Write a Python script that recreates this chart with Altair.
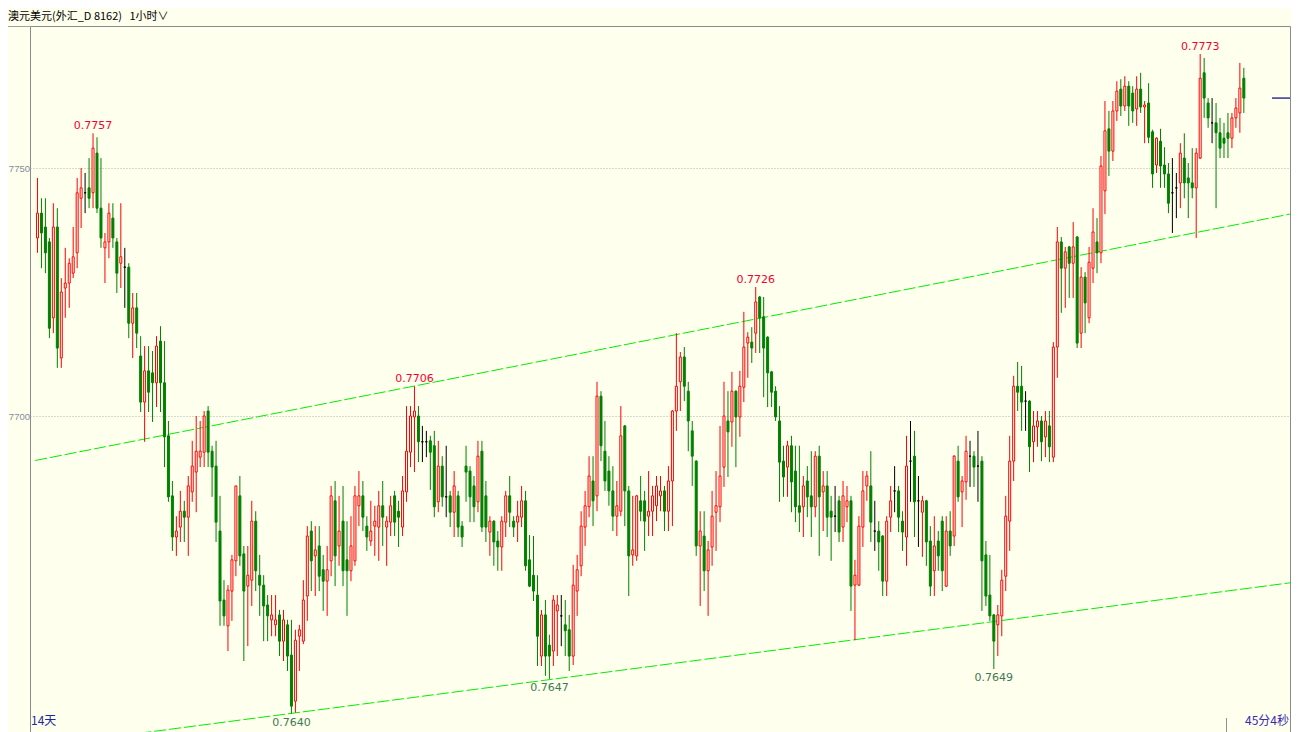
import altair as alt
import pandas as pd
import numpy as np

# ---------------- data (AUD/USD 1h candles) ----------------
open_ = [
    0.77359, 0.77409, 0.77381, 0.77351, 0.77198, 0.77381, 0.77117, 0.77258, 0.77268, 0.77288,
    0.77329, 0.77439, 0.77450, 0.77460, 0.77450, 0.77530, 0.77419, 0.77339, 0.77351, 0.77399,
    0.77351, 0.77308, 0.77300, 0.77300, 0.77187, 0.77218, 0.77121, 0.77028, 0.77091, 0.77087,
    0.77067, 0.77151, 0.77067, 0.76960, 0.76839, 0.76756, 0.76776, 0.76808, 0.76796, 0.76847,
    0.76887, 0.76917, 0.76927, 0.77010, 0.76929, 0.76899, 0.76768, 0.76629, 0.76577, 0.76647,
    0.76708, 0.76839, 0.76722, 0.76657, 0.76669, 0.76788, 0.76679, 0.76659, 0.76619, 0.76589,
    0.76579, 0.76599, 0.76546, 0.76579, 0.76518, 0.76425, 0.76556, 0.76546, 0.76637, 0.76768,
    0.76718, 0.76738, 0.76690, 0.76667, 0.76708, 0.76829, 0.76738, 0.76788, 0.76710, 0.76688,
    0.76708, 0.76819, 0.76839, 0.76778, 0.76748, 0.76778, 0.76776, 0.76819, 0.76776, 0.76786,
    0.76839, 0.76808, 0.76776, 0.76847, 0.76927, 0.76998, 0.77000, 0.76948, 0.76948, 0.76950,
    0.76940, 0.76827, 0.76899, 0.76837, 0.76839, 0.76806, 0.76839, 0.76778, 0.76899, 0.76889,
    0.76859, 0.76827, 0.76929, 0.76839, 0.76766, 0.76788, 0.76748, 0.76736, 0.76786, 0.76839,
    0.76788, 0.76786, 0.76796, 0.76829, 0.76710, 0.76679, 0.76639, 0.76516, 0.76599, 0.76538,
    0.76526, 0.76607, 0.76597, 0.76579, 0.76569, 0.76516, 0.76647, 0.76698, 0.76776, 0.76817,
    0.76869, 0.76839, 0.77040, 0.76929, 0.76889, 0.76849, 0.76798, 0.76808, 0.76980, 0.76849,
    0.76720, 0.76718, 0.76829, 0.76829, 0.76798, 0.76808, 0.76819, 0.76839, 0.76849, 0.76808,
    0.76869, 0.77010, 0.77069, 0.77119, 0.77050, 0.76970, 0.76909, 0.76738, 0.76758, 0.76688,
    0.76736, 0.76806, 0.76817, 0.76897, 0.76990, 0.76988, 0.77050, 0.76998, 0.77058, 0.77147,
    0.77149, 0.77167, 0.77240, 0.77200, 0.77159, 0.77089, 0.77050, 0.76990, 0.76909, 0.76897,
    0.76940, 0.76889, 0.76819, 0.76817, 0.76869, 0.76839, 0.76817, 0.76919, 0.76847, 0.76859,
    0.76808, 0.76798, 0.76829, 0.76776, 0.76817, 0.76829, 0.76659, 0.76659, 0.76776, 0.76859,
    0.76859, 0.76768, 0.76768, 0.76758, 0.76667, 0.76796, 0.76849, 0.76849, 0.76788, 0.76756,
    0.76909, 0.76919, 0.76829, 0.76806, 0.76829, 0.76748, 0.76688, 0.76748, 0.76788, 0.76657,
    0.76768, 0.76758, 0.76909, 0.76847, 0.76867, 0.76919, 0.76919, 0.76899, 0.76909, 0.76720,
    0.76639, 0.76599, 0.76579, 0.76597, 0.76677, 0.76788, 0.76909, 0.77060, 0.77060, 0.77030,
    0.77030, 0.76948, 0.76978, 0.76990, 0.76958, 0.76980, 0.76917, 0.77139, 0.77351, 0.77298,
    0.77341, 0.77308, 0.77361, 0.77167, 0.77280, 0.77198, 0.77298, 0.77351, 0.77329, 0.77454,
    0.77579, 0.77534, 0.77615, 0.77659, 0.77625, 0.77665, 0.77651, 0.77619, 0.77659, 0.77623,
    0.77631, 0.77573, 0.77506, 0.77554, 0.77506, 0.77488, 0.77450, 0.77460, 0.77470, 0.77520,
    0.77480, 0.77470, 0.77460, 0.77520, 0.77692, 0.77631, 0.77591, 0.77591, 0.77571, 0.77560,
    0.77571, 0.77560, 0.77601, 0.77611, 0.77681,
]
high = [
    0.77480, 0.77439, 0.77439, 0.77359, 0.77429, 0.77419, 0.77278, 0.77339, 0.77318, 0.77381,
    0.77480, 0.77500, 0.77490, 0.77520, 0.77570, 0.77562, 0.77520, 0.77369, 0.77429, 0.77429,
    0.77359, 0.77429, 0.77339, 0.77308, 0.77248, 0.77248, 0.77161, 0.77141, 0.77141, 0.77131,
    0.77161, 0.77181, 0.77151, 0.76990, 0.76869, 0.76798, 0.76849, 0.76829, 0.76879, 0.76950,
    0.77000, 0.76990, 0.77010, 0.77020, 0.76940, 0.76950, 0.76839, 0.76669, 0.76659, 0.76720,
    0.76859, 0.76879, 0.76738, 0.76738, 0.76829, 0.76808, 0.76720, 0.76679, 0.76639, 0.76639,
    0.76639, 0.76609, 0.76609, 0.76589, 0.76589, 0.76569, 0.76579, 0.76669, 0.76778, 0.76788,
    0.76778, 0.76778, 0.76720, 0.76738, 0.76859, 0.76869, 0.76839, 0.76859, 0.76788, 0.76798,
    0.76859, 0.76889, 0.76869, 0.76798, 0.76829, 0.76819, 0.76849, 0.76869, 0.76798, 0.76839,
    0.76849, 0.76829, 0.76879, 0.77020, 0.77020, 0.77060, 0.77020, 0.76980, 0.76970, 0.76960,
    0.76970, 0.76950, 0.76919, 0.76940, 0.76849, 0.76889, 0.76849, 0.76788, 0.76940, 0.76899,
    0.76879, 0.76950, 0.76950, 0.76869, 0.76798, 0.76790, 0.76768, 0.76798, 0.76849, 0.76879,
    0.76798, 0.76829, 0.76859, 0.76849, 0.76760, 0.76758, 0.76679, 0.76609, 0.76629, 0.76559,
    0.76639, 0.76639, 0.76639, 0.76629, 0.76599, 0.76700, 0.76720, 0.76808, 0.76849, 0.76919,
    0.76919, 0.77069, 0.77050, 0.76990, 0.76919, 0.76899, 0.76869, 0.77020, 0.76982, 0.76859,
    0.76839, 0.76841, 0.76879, 0.76849, 0.76889, 0.76859, 0.76879, 0.76879, 0.76859, 0.76899,
    0.77012, 0.77167, 0.77129, 0.77139, 0.77069, 0.76990, 0.76911, 0.76808, 0.76808, 0.76748,
    0.76849, 0.76889, 0.76980, 0.77069, 0.77050, 0.77089, 0.77052, 0.77091, 0.77210, 0.77169,
    0.77179, 0.77260, 0.77242, 0.77240, 0.77161, 0.77091, 0.77060, 0.77020, 0.76940, 0.76950,
    0.76960, 0.76940, 0.76940, 0.76879, 0.76899, 0.76929, 0.76929, 0.76940, 0.76889, 0.76889,
    0.76839, 0.76859, 0.76839, 0.76869, 0.76859, 0.76839, 0.76710, 0.76798, 0.76889, 0.76889,
    0.76929, 0.76829, 0.76788, 0.76760, 0.76798, 0.76859, 0.76899, 0.76859, 0.76808, 0.76960,
    0.76990, 0.76970, 0.76879, 0.76839, 0.76831, 0.76778, 0.76798, 0.76768, 0.76798, 0.76798,
    0.76808, 0.76921, 0.76940, 0.76879, 0.76960, 0.76950, 0.76929, 0.76970, 0.76919, 0.76748,
    0.76720, 0.76601, 0.76619, 0.76690, 0.76839, 0.76960, 0.77081, 0.77109, 0.77101, 0.77050,
    0.77032, 0.77010, 0.77010, 0.77000, 0.77010, 0.77010, 0.77149, 0.77381, 0.77361, 0.77341,
    0.77343, 0.77391, 0.77363, 0.77300, 0.77290, 0.77341, 0.77419, 0.77399, 0.77524, 0.77635,
    0.77615, 0.77635, 0.77675, 0.77679, 0.77685, 0.77675, 0.77665, 0.77685, 0.77692, 0.77635,
    0.77671, 0.77577, 0.77562, 0.77579, 0.77542, 0.77510, 0.77520, 0.77490, 0.77550, 0.77570,
    0.77510, 0.77540, 0.77540, 0.77730, 0.77722, 0.77641, 0.77641, 0.77631, 0.77601, 0.77591,
    0.77611, 0.77611, 0.77641, 0.77712, 0.77702,
]
low = [
    0.77329, 0.77298, 0.77288, 0.77157, 0.77167, 0.77097, 0.77097, 0.77198, 0.77218, 0.77278,
    0.77298, 0.77379, 0.77409, 0.77419, 0.77419, 0.77409, 0.77339, 0.77268, 0.77318, 0.77339,
    0.77248, 0.77258, 0.77218, 0.77157, 0.77117, 0.77137, 0.77008, 0.76948, 0.77008, 0.76988,
    0.77018, 0.77008, 0.76897, 0.76827, 0.76728, 0.76718, 0.76746, 0.76746, 0.76718, 0.76827,
    0.76806, 0.76897, 0.76897, 0.76897, 0.76837, 0.76746, 0.76577, 0.76577, 0.76526, 0.76587,
    0.76677, 0.76698, 0.76506, 0.76536, 0.76617, 0.76647, 0.76597, 0.76546, 0.76546, 0.76556,
    0.76556, 0.76516, 0.76506, 0.76486, 0.76400, 0.76402, 0.76486, 0.76540, 0.76587, 0.76647,
    0.76637, 0.76647, 0.76607, 0.76597, 0.76677, 0.76657, 0.76698, 0.76657, 0.76597, 0.76667,
    0.76698, 0.76778, 0.76768, 0.76728, 0.76738, 0.76718, 0.76708, 0.76738, 0.76698, 0.76758,
    0.76758, 0.76736, 0.76758, 0.76827, 0.76897, 0.76887, 0.76907, 0.76907, 0.76917, 0.76851,
    0.76796, 0.76806, 0.76817, 0.76796, 0.76776, 0.76756, 0.76756, 0.76736, 0.76827, 0.76786,
    0.76786, 0.76806, 0.76766, 0.76746, 0.76718, 0.76698, 0.76688, 0.76688, 0.76756, 0.76776,
    0.76756, 0.76746, 0.76776, 0.76688, 0.76655, 0.76627, 0.76496, 0.76496, 0.76476, 0.76470,
    0.76496, 0.76516, 0.76536, 0.76516, 0.76486, 0.76498, 0.76597, 0.76677, 0.76738, 0.76796,
    0.76778, 0.76808, 0.76909, 0.76849, 0.76819, 0.76768, 0.76758, 0.76798, 0.76778, 0.76637,
    0.76698, 0.76708, 0.76788, 0.76728, 0.76758, 0.76758, 0.76788, 0.76808, 0.76768, 0.76768,
    0.76778, 0.76970, 0.77010, 0.77030, 0.76929, 0.76859, 0.76718, 0.76617, 0.76647, 0.76597,
    0.76698, 0.76728, 0.76786, 0.76857, 0.76877, 0.76938, 0.76897, 0.76958, 0.77028, 0.77077,
    0.77107, 0.77127, 0.77127, 0.77038, 0.77018, 0.77018, 0.76990, 0.76827, 0.76837, 0.76837,
    0.76806, 0.76786, 0.76766, 0.76756, 0.76796, 0.76756, 0.76796, 0.76718, 0.76768, 0.76756,
    0.76708, 0.76766, 0.76746, 0.76746, 0.76786, 0.76607, 0.76548, 0.76657, 0.76736, 0.76829,
    0.76746, 0.76728, 0.76688, 0.76637, 0.76637, 0.76766, 0.76806, 0.76766, 0.76728, 0.76698,
    0.76827, 0.76756, 0.76736, 0.76716, 0.76698, 0.76637, 0.76637, 0.76688, 0.76647, 0.76655,
    0.76718, 0.76738, 0.76827, 0.76776, 0.76831, 0.76857, 0.76857, 0.76827, 0.76607, 0.76617,
    0.76587, 0.76490, 0.76516, 0.76556, 0.76647, 0.76728, 0.76869, 0.77010, 0.76970, 0.76970,
    0.76887, 0.76907, 0.76938, 0.76909, 0.76917, 0.76907, 0.76907, 0.77077, 0.77208, 0.77218,
    0.77238, 0.77238, 0.77137, 0.77137, 0.77167, 0.77187, 0.77268, 0.77288, 0.77308, 0.77407,
    0.77484, 0.77514, 0.77595, 0.77605, 0.77615, 0.77585, 0.77591, 0.77585, 0.77611, 0.77550,
    0.77550, 0.77460, 0.77490, 0.77460, 0.77460, 0.77409, 0.77369, 0.77399, 0.77419, 0.77439,
    0.77399, 0.77439, 0.77359, 0.77518, 0.77601, 0.77581, 0.77550, 0.77419, 0.77520, 0.77520,
    0.77520, 0.77540, 0.77581, 0.77571, 0.77611,
]
close = [
    0.77409, 0.77369, 0.77329, 0.77177, 0.77381, 0.77137, 0.77250, 0.77268, 0.77308, 0.77321,
    0.77450, 0.77460, 0.77450, 0.77439, 0.77540, 0.77419, 0.77359, 0.77351, 0.77409, 0.77359,
    0.77288, 0.77321, 0.77300, 0.77187, 0.77218, 0.77167, 0.77028, 0.77091, 0.77048, 0.77067,
    0.77141, 0.77067, 0.76958, 0.76837, 0.76756, 0.76768, 0.76808, 0.76796, 0.76859, 0.76899,
    0.76929, 0.76929, 0.77000, 0.76927, 0.76897, 0.76786, 0.76627, 0.76597, 0.76649, 0.76710,
    0.76859, 0.76718, 0.76647, 0.76679, 0.76788, 0.76688, 0.76659, 0.76617, 0.76597, 0.76599,
    0.76589, 0.76546, 0.76589, 0.76516, 0.76415, 0.76548, 0.76569, 0.76629, 0.76758, 0.76708,
    0.76730, 0.76677, 0.76667, 0.76690, 0.76839, 0.76718, 0.76768, 0.76688, 0.76688, 0.76738,
    0.76839, 0.76839, 0.76796, 0.76756, 0.76768, 0.76788, 0.76819, 0.76796, 0.76788, 0.76819,
    0.76786, 0.76796, 0.76849, 0.76929, 0.77000, 0.77010, 0.76948, 0.76948, 0.76948, 0.76927,
    0.76817, 0.76899, 0.76837, 0.76837, 0.76806, 0.76859, 0.76776, 0.76756, 0.76887, 0.76837,
    0.76817, 0.76919, 0.76776, 0.76776, 0.76788, 0.76746, 0.76736, 0.76788, 0.76839, 0.76806,
    0.76776, 0.76798, 0.76829, 0.76698, 0.76657, 0.76647, 0.76556, 0.76599, 0.76516, 0.76516,
    0.76629, 0.76619, 0.76597, 0.76567, 0.76516, 0.76659, 0.76690, 0.76778, 0.76819, 0.76879,
    0.76829, 0.77040, 0.76940, 0.76869, 0.76849, 0.76798, 0.76819, 0.76960, 0.76849, 0.76718,
    0.76730, 0.76839, 0.76808, 0.76788, 0.76808, 0.76839, 0.76859, 0.76849, 0.76808, 0.76869,
    0.77010, 0.77060, 0.77119, 0.77060, 0.76990, 0.76919, 0.76738, 0.76768, 0.76688, 0.76730,
    0.76798, 0.76819, 0.76879, 0.77000, 0.76968, 0.77050, 0.76998, 0.77060, 0.77139, 0.77159,
    0.77137, 0.77230, 0.77198, 0.77137, 0.77087, 0.77048, 0.76998, 0.76907, 0.76877, 0.76940,
    0.76867, 0.76817, 0.76806, 0.76859, 0.76837, 0.76817, 0.76919, 0.76837, 0.76859, 0.76796,
    0.76796, 0.76798, 0.76766, 0.76839, 0.76829, 0.76657, 0.76679, 0.76778, 0.76849, 0.76879,
    0.76786, 0.76768, 0.76746, 0.76667, 0.76788, 0.76829, 0.76849, 0.76796, 0.76766, 0.76899,
    0.76909, 0.76827, 0.76829, 0.76829, 0.76746, 0.76657, 0.76738, 0.76718, 0.76688, 0.76768,
    0.76738, 0.76919, 0.76837, 0.76869, 0.76929, 0.76919, 0.76897, 0.76899, 0.76708, 0.76637,
    0.76597, 0.76546, 0.76599, 0.76669, 0.76798, 0.76909, 0.77060, 0.77048, 0.77028, 0.77030,
    0.76938, 0.76980, 0.76990, 0.76948, 0.76990, 0.76938, 0.77139, 0.77351, 0.77298, 0.77331,
    0.77308, 0.77341, 0.77147, 0.77280, 0.77228, 0.77310, 0.77371, 0.77329, 0.77504, 0.77575,
    0.77534, 0.77615, 0.77655, 0.77625, 0.77665, 0.77625, 0.77615, 0.77659, 0.77623, 0.77627,
    0.77562, 0.77488, 0.77560, 0.77504, 0.77488, 0.77429, 0.77450, 0.77460, 0.77530, 0.77470,
    0.77470, 0.77460, 0.77530, 0.77681, 0.77641, 0.77601, 0.77591, 0.77571, 0.77540, 0.77550,
    0.77560, 0.77601, 0.77621, 0.77661, 0.77641,
]

# marked swing highs / lows (candle index)
hi_idx = [14, 95, 181, 293]
lo_idx = [64, 129, 241]

# channel lines (candle index, price)
upper_x = [-0.575, 317.175]
upper_y = [0.769103, 0.774095]
lower_x = [-0.575, 317.175]
lower_y = [0.763329, 0.766653]

grid_levels = [0.7700, 0.7750]
title_text = "澳元美元(外汇_D 8162)\u00a0\u00a0\u00a01小时∨"
left_note = "14天"
right_note = "45分4秒"

# ---------------- style / layout ----------------
BG = "#ffffee"
UP = "#ff0000"
DOWN = "#008000"
FLAT = "#000000"
PAD_L, PAD_T, PAD_R = 22, 18, 1
TOTAL_W, TOTAL_H = 1283, 724
W = TOTAL_W - PAD_L - PAD_R
H = TOTAL_H - PAD_T

df = pd.DataFrame({"i": np.arange(len(open_)), "o": open_, "h": high, "l": low, "c": close})
df["dir"] = np.where(df.c > df.o, "up", np.where(df.c < df.o, "down", "flat"))

xs = alt.Scale(domain=[-0.625, -0.625 + W / 4.0], nice=False, zero=False)
ys = alt.Scale(domain=[0.763629, 0.777863], nice=False, zero=False)
yaxis = alt.Axis(values=grid_levels, title=None, orient="left", ticks=False, domain=False,
                 labelExpr="substring(format(datum.value, '.4f'), 2)",
                 labelColor="#7f8d9b", labelFont="Liberation Sans", labelFontSize=9.5,
                 labelPadding=0.5, grid=True, gridColor="#b0b0b0", gridDash=[1, 2], gridWidth=1)


def X(f):
    return alt.X(f, type="quantitative", scale=xs, axis=None)


def Y(f):
    return alt.Y(f, type="quantitative", scale=ys, axis=yaxis)


cscale = alt.Scale(domain=["up", "down", "flat"], range=[UP, DOWN, FLAT])
fscale = alt.Scale(domain=["up", "down", "flat"], range=[BG, DOWN, FLAT])

base = alt.Chart(df)
wicks = base.mark_rule(strokeWidth=1).encode(
    x=X("i"), y=Y("l"), y2="h",
    color=alt.Color("dir:N", scale=cscale, legend=None),
)
bodies = base.mark_bar(size=2, strokeWidth=1).encode(
    x=X("i"), y=Y("o"), y2="c",
    fill=alt.Fill("dir:N", scale=fscale, legend=None),
    stroke=alt.Stroke("dir:N", scale=cscale, legend=None),
)

lines_df = pd.DataFrame({
    "x": upper_x + lower_x,
    "y": upper_y + lower_y,
    "line": ["upper", "upper", "lower", "lower"],
})
channel = alt.Chart(lines_df).mark_line(clip=True, strokeWidth=1, color="#00ee00",
                                        strokeDash=[12, 3]).encode(
    x=X("x"), y=Y("y"), detail="line:N")

hi_df = pd.DataFrame({"i": hi_idx, "v": [high[k] for k in hi_idx]})
hi_df["t"] = hi_df.v.map(lambda v: f"{v:.4f}")
lo_df = pd.DataFrame({"i": lo_idx, "v": [low[k] for k in lo_idx]})
lo_df["t"] = lo_df.v.map(lambda v: f"{v:.4f}")

hi_text = alt.Chart(hi_df).mark_text(baseline="bottom", dy=-2, color="#f5002e",
                                     font="DejaVu Sans", fontSize=11).encode(
    x=X("i"), y=Y("v"), text="t:N")
lo_text = alt.Chart(lo_df).mark_text(baseline="top", dy=3, color="#3c7a52",
                                     font="DejaVu Sans", fontSize=11).encode(
    x=X("i"), y=Y("v"), text="t:N")

last_df = pd.DataFrame({"v": [close[-1]]})
last_mark = alt.Chart(last_df).mark_rule(color="#000080", strokeWidth=1.2).encode(
    y=Y("v"), x=alt.value(W - 18), x2=alt.value(W))

one = pd.DataFrame({"k": [0]})
header = alt.Chart(one).mark_text(text=title_text, align="left", baseline="middle",
                                  font="Noto Sans CJK SC", fontSize=11, color="#000000").encode(
    x=alt.value(-PAD_L), y=alt.value(-9))
header_line = alt.Chart(one).mark_rule(color="#a0a0a0", strokeWidth=1).encode(
    x=alt.value(-PAD_L), x2=alt.value(0), y=alt.value(0.5))
left_txt = alt.Chart(one).mark_text(text=left_note, align="left", baseline="middle",
                                    font="Noto Sans CJK SC", fontSize=12, color="#1e2a9a").encode(
    x=alt.value(1), y=alt.value(H - 11))
right_txt = alt.Chart(one).mark_text(text=right_note, align="right", baseline="middle",
                                     font="Noto Sans CJK SC", fontSize=12, color="#3a2ab0").encode(
    x=alt.value(W - 1), y=alt.value(H - 11))
tick = alt.Chart(one).mark_rule(color="#909090", strokeWidth=1).encode(
    x=alt.value(1196.5), y=alt.value(H - 14), y2=alt.value(H))

chart = alt.layer(
    channel, wicks, bodies, hi_text, lo_text, last_mark,
    header, header_line, left_txt, right_txt, tick,
).properties(
    width=W, height=H,
    autosize=alt.AutoSizeParams(type="none"),
    padding={"left": PAD_L, "top": PAD_T, "right": PAD_R, "bottom": 0},
    background=BG,
).configure_view(stroke="#8a8a8a", strokeWidth=1)

chart.save("out.html", embed_options={"renderer": "svg", "actions": False})
